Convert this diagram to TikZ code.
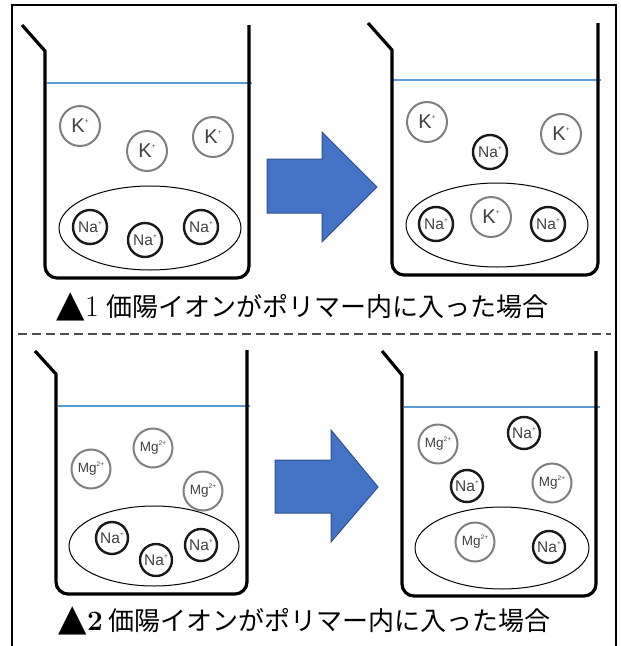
\documentclass[tikz,border=0pt]{standalone}
\usepackage{fontspec}
\usetikzlibrary{shapes.geometric}
\newfontfamily\jpfont{Noto Sans CJK JP}
\newfontfamily\ionfont{Liberation Sans}
\newfontfamily\symfont{DejaVu Sans}
\newcommand\ionsup[1]{\raisebox{0.45em}{\fontsize{6.5}{6.5}\selectfont #1}}
\definecolor{waterblue}{HTML}{5B9BD5}
\definecolor{arrowfill}{HTML}{4472C4}
\definecolor{arrowline}{HTML}{2F528F}
\definecolor{iongray}{HTML}{7F7F7F}
\definecolor{iontext}{HTML}{404040}
\tikzset{
  wall/.style={line width=3.2pt, black},
  water/.style={line width=1.3pt, draw=waterblue},
  polymer/.style={ellipse, draw, line width=1pt, inner sep=0pt},
  kion/.style={circle, draw=iongray, fill=white, line width=2pt, minimum size=40pt, inner sep=0pt,
    text=iontext, font=\ionfont\fontsize{20}{20}\selectfont},
  naion/.style={circle, draw=black!90, fill=white, line width=2.4pt, minimum size=34pt, inner sep=0pt,
    text=iontext, font=\ionfont\fontsize{15.5}{15.5}\selectfont},
  mgion/.style={circle, draw=iongray, fill=white, line width=2pt, minimum size=39pt, inner sep=0pt,
    text=iontext, font=\ionfont\fontsize{13.5}{13.5}\selectfont},
  bigarrow/.style={fill=arrowfill, draw=arrowline, line width=1pt, line join=miter},
  caption/.style={font=\jpfont\fontsize{26}{26}\selectfont, inner sep=0pt, anchor=base west},
  divider/.style={line width=1.2pt, draw=black!70, dash pattern=on 9pt off 5pt},
  frame/.style={line width=1.5pt, black}
}
\newcommand\capmark{\makebox[29pt][l]{\symfont\fontsize{37}{37}\selectfont ▲}}
\begin{document}
\begin{tikzpicture}[x=1pt, y=-1pt]
\useasboundingbox (0,0) rectangle (621,646);
% frame
\draw[frame] (12,646) -- (12,5) -- (616,5) -- (616,646);
\draw[divider] (18,334) -- (611,334);

% ---------- top left beaker ----------
\draw[water] (47,83) -- (252,83);
\draw[wall] (22,25) -- (45,51) [rounded corners=12pt] -- (45,278) -- (249,278) -- (249,25);
\node[polymer, minimum width=182pt, minimum height=84pt] (p1) at (150,228) {};
\node[kion] (k11) at (80,126) {K\ionsup{+}};
\node[kion] (k12) at (147,151) {K\ionsup{+}};
\node[kion] (k13) at (213,137) {K\ionsup{+}};
\node[naion] (n11) at (90,227) {Na\ionsup{+}};
\node[naion] (n12) at (145,240) {Na\ionsup{+}};
\node[naion] (n13) at (201,227) {Na\ionsup{+}};

% arrow 1
\draw[bigarrow] (267,159) -- (322,159) -- (322,132) -- (377,187) -- (322,242) -- (322,213) -- (267,213) -- cycle;

% ---------- top right beaker ----------
\draw[water] (393,80) -- (601,80);
\draw[wall] (368,23) -- (392,50) [rounded corners=12pt] -- (392,275) -- (598,275) -- (598,23);
\node[polymer, minimum width=182pt, minimum height=84pt] (p2) at (497,225) {};
\node[kion] (k21) at (427,122) {K\ionsup{+}};
\node[naion] (n21) at (490,152) {Na\ionsup{+}};
\node[kion] (k22) at (561,134) {K\ionsup{+}};
\node[naion] (n22) at (436,224) {Na\ionsup{+}};
\node[kion] (k23) at (491,217) {K\ionsup{+}};
\node[naion] (n23) at (548,224) {Na\ionsup{+}};

\node[caption] (c1) at (56,316) {\capmark\makebox[21pt][l]{\rmfamily\fontsize{30}{30}\selectfont 1}価陽イオンがポリマー内に入った場合};

% ---------- bottom left beaker ----------
\draw[water] (58,406) -- (250,406);
\draw[wall] (35,351) -- (56,374) [rounded corners=12pt] -- (56,594) -- (247,594) -- (247,350);
\node[polymer, minimum width=170pt, minimum height=80pt] (p3) at (154,546) {};
\node[mgion] (m31) at (91,469) {Mg\ionsup{2+}};
\node[mgion] (m32) at (153,448) {Mg\ionsup{2+}};
\node[mgion] (m33) at (203,491) {Mg\ionsup{2+}};
\node[naion, minimum size=32pt] (n31) at (112,538) {Na\ionsup{+}};
\node[naion, minimum size=32pt] (n32) at (156,560) {Na\ionsup{+}};
\node[naion, minimum size=32pt] (n33) at (201,545) {Na\ionsup{+}};

% arrow 2
\draw[bigarrow] (275,460) -- (331,460) -- (331,430) -- (378,487) -- (331,542) -- (331,513) -- (275,513) -- cycle;

% ---------- bottom right beaker ----------
\draw[water] (404,407) -- (600,407);
\draw[wall] (382,351) -- (402,375) [rounded corners=12pt] -- (402,596) -- (596,596) -- (596,351);
\node[polymer, minimum width=174pt, minimum height=82pt] (p4) at (502,548) {};
\node[mgion] (m41) at (438,444) {Mg\ionsup{2+}};
\node[naion, minimum size=32pt] (n41) at (524,433) {Na\ionsup{+}};
\node[naion, minimum size=32pt] (n42) at (467,486) {Na\ionsup{+}};
\node[mgion] (m42) at (552,483) {Mg\ionsup{2+}};
\node[mgion] (m43) at (475,542) {Mg\ionsup{2+}};
\node[naion, minimum size=32pt] (n43) at (549,547) {Na\ionsup{+}};

\node[caption] (c2) at (58,630) {\capmark\makebox[21pt][l]{\rmfamily\bfseries\fontsize{28}{28}\selectfont 2}価陽イオンがポリマー内に入った場合};
\end{tikzpicture}
\end{document}
